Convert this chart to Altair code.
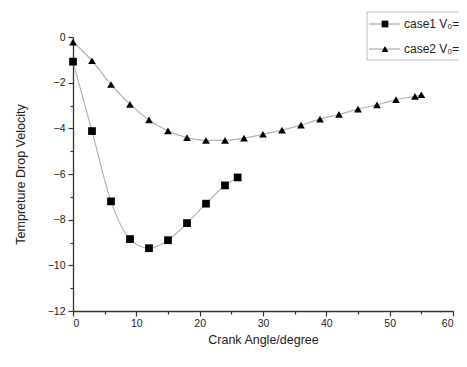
import altair as alt
import pandas as pd

case1_x = [0, 3, 6, 9, 12, 15, 18, 21, 24, 26]
case1_y = [-1.08, -4.12, -7.2, -8.85, -9.25, -8.9, -8.15, -7.3, -6.5, -6.15]
case2_x = [0, 3, 6, 9, 12, 15, 18, 21, 24, 27, 30, 33, 36, 39, 42, 45, 48, 51, 54, 55]
case2_y = [-0.22, -1.04, -2.08, -2.95, -3.63, -4.11, -4.41, -4.53, -4.53, -4.43,
           -4.26, -4.08, -3.86, -3.6, -3.39, -3.16, -2.97, -2.74, -2.6, -2.53]
series_names = ["case1", "case2"]
legend_labels = ["case1 V\u2080=", "case2 V\u2080="]

df = pd.DataFrame(
    [{"angle": a, "v": v, "series": series_names[0]} for a, v in zip(case1_x, case1_y)]
    + [{"angle": a, "v": v, "series": series_names[1]} for a, v in zip(case2_x, case2_y)]
)

FONT = "Liberation Sans"

x_enc = alt.X(
    "angle:Q",
    scale=alt.Scale(domain=[0, 60], nice=False),
    axis=alt.Axis(
        title="Crank Angle/degree",
        values=list(range(0, 61, 5)),
        labelExpr="datum.value % 10 === 0 ? datum.label : ''",
        tickSize={"condition": {"test": "datum.value % 10 === 0", "value": 5}, "value": 3},
        labelPadding=2,
        titlePadding=5,
    ),
)
y_enc = alt.Y(
    "v:Q",
    scale=alt.Scale(domain=[-12, 0], nice=False),
    axis=alt.Axis(
        title="Tempreture Drop Velocity",
        values=list(range(-12, 1, 1)),
        labelExpr="datum.value % 2 === 0 ? datum.label : ''",
        tickSize={"condition": {"test": "datum.value % 2 === 0", "value": 5}, "value": 3},
        labelPadding=3,
        titlePadding=20,
    ),
)

lines = alt.Chart(df).mark_line(color="#b3b3b3", strokeWidth=1.2, interpolate="monotone").encode(
    x=x_enc, y=y_enc, detail="series:N"
)
points = alt.Chart(df).mark_point(filled=True, color="black", opacity=1, size=60).encode(
    x=x_enc, y=y_enc,
    shape=alt.Shape("series:N", scale=alt.Scale(domain=series_names, range=["square", "triangle-up"]), legend=None),
)

leg_df = pd.DataFrame({"label": legend_labels, "series": series_names})
box = alt.Chart(leg_df.head(1)).mark_rect(fill="white", stroke="#bdbdbd", strokeWidth=1).encode(
    x=alt.value(294), x2=alt.value(420), y=alt.value(-25), y2=alt.value(23)
)
legend_layers = [box]
leg_y = [-13, 12]
leg_shapes = ["square", "triangle-up"]
for i in range(2):
    d = leg_df.iloc[[i]]
    legend_layers.append(
        alt.Chart(d).mark_rule(color="#9a9a9a", strokeWidth=1).encode(
            x=alt.value(296), x2=alt.value(327), y=alt.value(leg_y[i])
        )
    )
    legend_layers.append(
        alt.Chart(d).mark_point(filled=True, color="black", opacity=1, size=45, shape=leg_shapes[i]).encode(
            x=alt.value(312), y=alt.value(leg_y[i])
        )
    )
    legend_layers.append(
        alt.Chart(d).mark_text(align="left", baseline="middle", font=FONT, fontSize=12, color="#222").encode(
            x=alt.value(331), y=alt.value(leg_y[i]), text="label:N"
        )
    )

chart = alt.layer(lines, points, *legend_layers).properties(
    width=380, height=274,
    autosize="none",
    padding={"left": 65, "top": 29, "right": 6, "bottom": 40},
).configure_view(stroke=None).configure_axis(
    grid=False,
    domainColor="#333",
    domainWidth=1.3,
    tickColor="#333",
    tickWidth=1.2,
    labelFont=FONT,
    labelFontSize=10.5,
    labelColor="#222",
    titleFont=FONT,
    titleFontSize=12.5,
    titleFontWeight="normal",
    titleColor="#222",
)

chart.save("out.html", embed_options={"renderer": "svg", "actions": False})
